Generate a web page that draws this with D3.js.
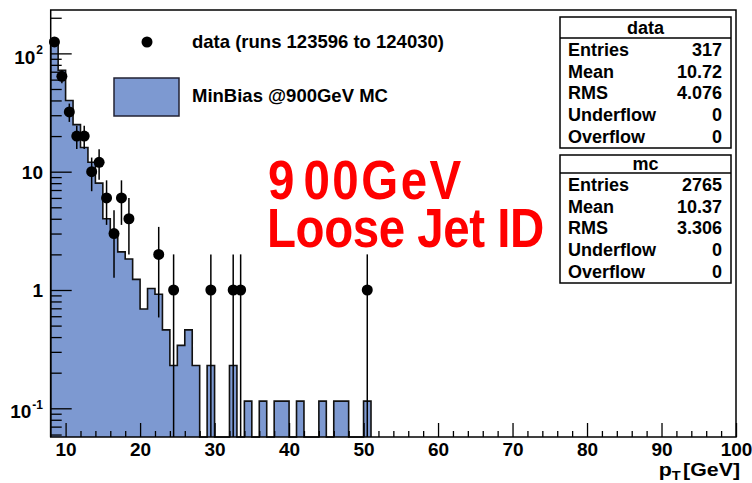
<!DOCTYPE html>
<html>
<head>
<meta charset="utf-8">
<script src="https://cdn.jsdelivr.net/npm/d3@7"></script>
<style>
  body { margin: 0; background: #fff; }
  svg { display: block; font-family: "Liberation Sans", Arial, Helvetica, sans-serif; }
</style>
</head>
<body>
<svg id="chart" width="752" height="483"></svg>
<script>
// ---- Jet pT spectrum: data vs. MinBias MC (MC normalised to data entries) ----

// MC histogram: lower bin edges (1 GeV bins) and normalised contents
const mcBinLow = [8, 9, 10, 11, 12, 13, 14, 15, 16, 17, 18, 19, 20, 21, 22, 23, 24, 25, 26, 27, 28,
                  29, 30, 31, 32, 33, 34, 35, 36, 37, 38, 39, 40, 41, 42, 43, 44, 45, 46, 47, 48, 49, 50];
const mcValues = [130, 72, 40, 25, 16, 12, 8, 4, 2.9, 2.1, 1.83, 1.23, 0.69, 1.03, 0.92, 0.46, 0.23, 0.34, 0.46, 0.23, 0,
                  0.23, 0, 0, 0.23, 0, 0.115, 0, 0.115, 0, 0.115, 0.115, 0, 0.115, 0, 0, 0.115, 0, 0.115, 0.115, 0, 0, 0.115];
const mcBinWidth = 1;

// Data: bin centres and entries (Poisson errors)
const dataX = [8.5, 9.5, 10.5, 11.5, 12.5, 13.5, 14.5, 15.5, 16.5, 17.5, 18.5, 22.5, 24.5, 29.5, 32.5, 33.5, 50.5];
const dataN = [125, 64, 32, 20, 20, 10, 12, 6, 3, 6, 4, 2, 1, 1, 1, 1, 1];

// Axis ticks
const xMajor = [10, 20, 30, 40, 50, 60, 70, 80, 90, 100];
const xMinor = [12, 14, 16, 18, 22, 24, 26, 28, 32, 34, 36, 38, 42, 44, 46, 48, 52, 54, 56, 58,
                62, 64, 66, 68, 72, 74, 76, 78, 82, 84, 86, 88, 92, 94, 96, 98];
const yMajor = [0.1, 1, 10, 100];
const yLabelBase = ["10", "1", "10", "10"];
const yLabelExp = ["-1", "", "", "2"];
const yMinor = [0.06, 0.07, 0.08, 0.09, 0.2, 0.3, 0.4, 0.5, 0.6, 0.7, 0.8, 0.9,
                2, 3, 4, 5, 6, 7, 8, 9, 20, 30, 40, 50, 60, 70, 80, 90, 200];

// Statistics boxes
const statNames = ["Entries", "Mean", "RMS", "Underflow", "Overflow"];
const dataStats = ["317", "10.72", "4.076", "0", "0"];
const mcStats = ["2765", "10.37", "3.306", "0", "0"];

const legendLabels = ["data (runs 123596 to 124030)", "MinBias @900GeV MC"];
const bannerLines = ["900GeV", "Loose Jet ID"];

// ---- layout ----
const frame = { left: 50.7, right: 736, top: 10, bottom: 437 };
const fillColor = "#7d99d1";

const svg = d3.select("#chart");

const x = d3.scaleLinear().domain([8, 100]).range([frame.left, frame.right]);
const y = d3.scaleLog().domain([0.0572, 232.6]).range([frame.bottom, frame.top]);
const yc = v => (v > 0 ? y(v) : frame.bottom);

// MC step histogram (fill + outline)
const path = d3.path();
path.moveTo(x(mcBinLow[0]), frame.bottom);
mcBinLow.forEach((lo, i) => {
  const v = mcValues[i];
  path.lineTo(x(lo), yc(v));
  path.lineTo(x(lo + mcBinWidth), yc(v));
});
path.lineTo(x(mcBinLow[mcBinLow.length - 1] + mcBinWidth), frame.bottom);

svg.append("path")
  .attr("d", path.toString())
  .attr("fill", fillColor)
  .attr("stroke", "#111")
  .attr("stroke-width", 1.6)
  .attr("stroke-linejoin", "miter");

// Axes (ticks point into the frame)
const axisFont = 19;
const gx = svg.append("g").attr("transform", `translate(0,${frame.bottom})`);
gx.call(d3.axisBottom(x).tickValues(xMinor).tickSize(-6).tickFormat(""));
gx.call(g => g.select(".domain").remove());
const gxMaj = svg.append("g").attr("transform", `translate(0,${frame.bottom})`)
  .call(d3.axisBottom(x).tickValues(xMajor).tickSize(-14).tickPadding(5.5).tickFormat(d3.format("d")));
gxMaj.select(".domain").remove();
gxMaj.selectAll("text")
  .attr("font-size", axisFont).attr("font-weight", "bold")
  .attr("font-family", "Liberation Sans, Arial, sans-serif").attr("fill", "#000");

const gy = svg.append("g").attr("transform", `translate(${frame.left},0)`)
  .call(d3.axisLeft(y).tickValues(yMinor).tickSize(-11).tickFormat(""));
gy.select(".domain").remove();
const gyMaj = svg.append("g").attr("transform", `translate(${frame.left},0)`)
  .call(d3.axisLeft(y).tickValues(yMajor).tickSize(-21).tickFormat(""));
gyMaj.select(".domain").remove();
svg.selectAll("g.tick line").attr("stroke", "#000").attr("stroke-width", 1.3);

// y labels, powers of ten written with a raised exponent
yMajor.forEach((v, i) => {
  const ty = y(v);
  const t = svg.append("text")
    .attr("x", 43).attr("text-anchor", "end")
    .attr("font-size", axisFont).attr("font-weight", "bold").attr("fill", "#000");
  if (yLabelExp[i]) {
    t.attr("y", ty + 10.2);
    t.append("tspan").text(yLabelBase[i]);
    t.append("tspan").attr("font-size", 12).attr("dy", -9.5).attr("dx", 1).text(yLabelExp[i]);
  } else {
    t.attr("y", ty + 0.5).attr("dy", "0.35em").text(yLabelBase[i]);
  }
});

// Frame
svg.append("rect")
  .attr("x", frame.left).attr("y", frame.top)
  .attr("width", frame.right - frame.left).attr("height", frame.bottom - frame.top)
  .attr("fill", "none").attr("stroke", "#000").attr("stroke-width", 1.5);

// x title: p_T [GeV]
const xt = svg.append("text")
  .attr("transform", "translate(740,476) scale(1.22,1)").attr("text-anchor", "end")
  .attr("font-size", 17.5).attr("font-weight", "bold");
xt.append("tspan").text("p");
xt.append("tspan").attr("font-size", 12).attr("dy", 4).text("T");
xt.append("tspan").attr("dy", -4).attr("dx", 2).text("[GeV]");

// Data error bars and markers
const dataG = svg.append("g");
dataX.forEach((cx, i) => {
  const n = dataN[i], e = Math.sqrt(n);
  dataG.append("line")
    .attr("x1", x(cx)).attr("x2", x(cx))
    .attr("y1", n - e > 0 ? y(n - e) : frame.bottom)
    .attr("y2", y(n + e))
    .attr("stroke", "#000").attr("stroke-width", 1.5);
});
dataG.selectAll("circle").data(dataX).join("circle")
  .attr("cx", d => x(d)).attr("cy", (d, i) => y(dataN[i]))
  .attr("r", 5.5).attr("fill", "#000");

// Legend
svg.append("circle").attr("cx", 147).attr("cy", 42).attr("r", 5.5).attr("fill", "#000");
svg.append("text").attr("x", 192).attr("y", 48).attr("font-size", 18.5).attr("font-weight", "bold")
  .text(legendLabels[0]);
svg.append("rect").attr("x", 114).attr("y", 78).attr("width", 65).attr("height", 38)
  .attr("fill", fillColor).attr("stroke", "#223").attr("stroke-width", 1.5);
svg.append("text").attr("x", 192).attr("y", 102).attr("font-size", 18.5).attr("font-weight", "bold")
  .text(legendLabels[1]);

// Statistics boxes
function statBox(title, values, top, titleH, rowH) {
  const left = 560, right = 731;
  const h = titleH + rowH * values.length + 2;
  const g = svg.append("g");
  g.append("rect").attr("x", left).attr("y", top).attr("width", right - left).attr("height", h)
    .attr("fill", "#fff").attr("stroke", "#000").attr("stroke-width", 1.5);
  g.append("line").attr("x1", left).attr("x2", right).attr("y1", top + titleH).attr("y2", top + titleH)
    .attr("stroke", "#000").attr("stroke-width", 1.5);
  g.append("text").attr("x", (left + right) / 2).attr("y", top + titleH / 2).attr("dy", "0.35em")
    .attr("text-anchor", "middle").attr("font-size", 18).attr("font-weight", "bold").text(title);
  values.forEach((v, i) => {
    const cy = top + titleH + rowH * (i + 0.5) + 1;
    g.append("text").attr("x", 568).attr("y", cy).attr("dy", "0.35em")
      .attr("font-size", 18).attr("font-weight", "bold").text(statNames[i]);
    g.append("text").attr("x", 722).attr("y", cy).attr("dy", "0.35em").attr("text-anchor", "end")
      .attr("font-size", 18).attr("font-weight", "bold").text(v);
  });
}
statBox("data", dataStats, 17, 21, 21.6);
statBox("mc", mcStats, 155, 18, 21.6);

// Red banner: two lines in one text block, stretched vertically from the first baseline
const banner = svg.append("text")
  .attr("transform", "translate(268,199) scale(1,1.15)")
  .attr("fill", "#ff0000").attr("font-weight", "bold").attr("font-size", 47.5);
banner.append("tspan").text(bannerLines[0].slice(0, 1));
banner.append("tspan").attr("dx", 9).attr("letter-spacing", 2.5).text(bannerLines[0].slice(1));
banner.append("tspan").attr("x", -1).attr("dy", 48 / 1.15).attr("letter-spacing", -0.45).text(bannerLines[1]);
</script>
</body>
</html>
